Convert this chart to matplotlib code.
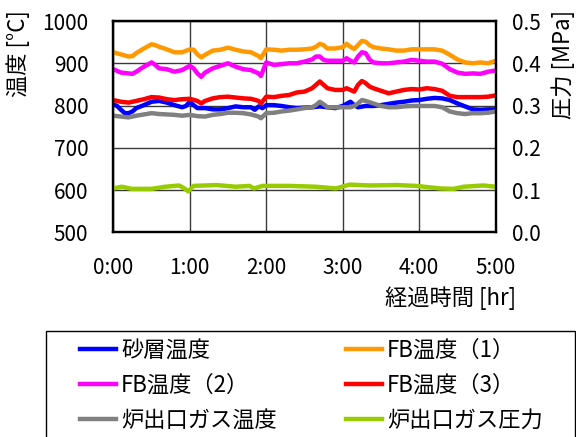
import matplotlib
matplotlib.use('Agg')
import matplotlib.pyplot as plt
from matplotlib.patches import Rectangle

plt.rcParams['font.family'] = ['Noto Sans CJK JP', 'DejaVu Sans']

# ---------------- data ----------------
hour_ticks = [0, 1, 2, 3, 4, 5]
hour_labels = ['0:00', '1:00', '2:00', '3:00', '4:00', '5:00']
temp_ticks = [500, 600, 700, 800, 900, 1000]
pres_ticks = [0.0, 0.1, 0.2, 0.3, 0.4, 0.5]

sand_t = [0, 0.05, 0.1, 0.15, 0.2, 0.25, 0.3, 0.4, 0.5, 0.6, 0.7, 0.8, 0.9, 0.95, 1.0, 1.05, 1.1, 1.2, 1.3, 1.4,
          1.5, 1.6, 1.7, 1.8, 1.85, 1.9, 1.95, 2.0, 2.1, 2.2, 2.3, 2.4, 2.5, 2.6, 2.7, 2.8, 2.9, 3.0, 3.1, 3.15,
          3.2, 3.3, 3.4, 3.5, 3.6, 3.7, 3.8, 3.9, 4.0, 4.1, 4.2, 4.3, 4.4, 4.5, 4.6, 4.7, 4.8, 4.9, 5.0]
sand_v = [803, 799, 790, 782, 782, 786, 794, 801, 809, 811, 807, 801, 796, 799, 809, 801, 794, 794, 791, 791,
          794, 798, 796, 796, 790, 798, 794, 801, 801, 799, 796, 794, 795, 796, 798, 796, 794, 799, 809, 801,
          796, 799, 799, 801, 804, 807, 809, 812, 813, 816, 818, 817, 813, 805, 798, 791, 790, 791, 791]

fb_t = [0, 0.1, 0.2, 0.25, 0.3, 0.4, 0.5, 0.55, 0.6, 0.7, 0.8, 0.9, 1.0, 1.05, 1.1, 1.15, 1.2, 1.3, 1.4, 1.5,
        1.6, 1.7, 1.8, 1.9, 1.93, 2.0, 2.1, 2.2, 2.3, 2.4, 2.5, 2.6, 2.65, 2.7, 2.75, 2.8, 2.9, 3.0, 3.05, 3.1,
        3.15, 3.2, 3.25, 3.3, 3.35, 3.4, 3.5, 3.6, 3.7, 3.8, 3.9, 4.0, 4.1, 4.2, 4.3, 4.4, 4.5, 4.6, 4.7, 4.8,
        4.9, 5.0]
fb1_v = [926, 921, 916, 917, 924, 935, 945, 943, 939, 933, 926, 926, 933, 932, 921, 914, 920, 930, 932, 937,
         932, 928, 926, 917, 912, 933, 932, 930, 932, 932, 933, 935, 939, 946, 943, 935, 935, 938, 946, 939,
         934, 943, 953, 951, 943, 938, 935, 933, 930, 930, 933, 933, 933, 933, 930, 920, 909, 902, 900, 902,
         900, 906]
fb2_v = [886, 878, 876, 875, 880, 892, 902, 896, 888, 886, 880, 884, 894, 888, 876, 868, 878, 888, 894, 900,
         892, 886, 884, 876, 870, 902, 896, 898, 900, 900, 904, 909, 916, 916, 908, 906, 906, 906, 912, 906,
         902, 916, 926, 924, 909, 902, 900, 900, 902, 904, 908, 906, 904, 904, 899, 886, 878, 875, 876, 875,
         880, 883]

fb3_t = [0, 0.1, 0.2, 0.3, 0.4, 0.5, 0.6, 0.7, 0.8, 0.9, 1.0, 1.1, 1.15, 1.2, 1.3, 1.4, 1.5, 1.6, 1.7, 1.8,
         1.9, 1.93, 2.0, 2.1, 2.2, 2.3, 2.4, 2.5, 2.6, 2.65, 2.7, 2.75, 2.8, 2.9, 3.0, 3.05, 3.1, 3.15, 3.2, 3.25,
         3.3, 3.35, 3.4, 3.5, 3.6, 3.7, 3.8, 3.9, 4.0, 4.1, 4.2, 4.3, 4.4, 4.5, 4.6, 4.7, 4.8, 4.9, 5.0]
fb3_v = [813, 809, 807, 811, 815, 820, 819, 815, 813, 815, 816, 811, 805, 811, 817, 820, 821, 819, 817, 816,
         811, 805, 821, 820, 823, 825, 831, 833, 841, 849, 857, 849, 841, 837, 837, 841, 837, 833, 849, 858,
         853, 845, 841, 835, 829, 833, 837, 839, 838, 841, 839, 835, 823, 820, 820, 820, 820, 821, 824]

gas_t = [0, 0.1, 0.2, 0.3, 0.4, 0.5, 0.6, 0.7, 0.8, 0.9, 1.0, 1.1, 1.2, 1.3, 1.4, 1.5, 1.6, 1.7, 1.8, 1.9,
         1.93, 2.0, 2.1, 2.2, 2.3, 2.4, 2.5, 2.6, 2.65, 2.7, 2.75, 2.8, 2.9, 3.0, 3.1, 3.15, 3.2, 3.25, 3.3, 3.4,
         3.5, 3.6, 3.7, 3.8, 3.9, 4.0, 4.1, 4.2, 4.3, 4.4, 4.5, 4.6, 4.7, 4.8, 4.9, 5.0]
gas_v = [776, 774, 772, 776, 779, 782, 780, 779, 778, 776, 778, 775, 774, 778, 780, 783, 783, 782, 779, 774,
         770, 782, 783, 786, 788, 791, 794, 796, 801, 809, 803, 796, 796, 796, 796, 799, 805, 813, 811, 805,
         799, 796, 796, 798, 799, 799, 799, 799, 796, 786, 782, 780, 782, 782, 783, 786]

pres_t = [0, 0.11, 0.24, 0.5, 0.68, 0.86, 0.93, 0.98, 1.05, 1.35, 1.6, 1.78, 1.84, 1.95, 2.3, 2.65, 2.91,
          3.09, 3.35, 3.7, 3.96, 4.27, 4.45, 4.58, 4.84, 5.0]
pres_v = [0.104, 0.108, 0.103, 0.103, 0.108, 0.111, 0.104, 0.097, 0.110, 0.112, 0.108, 0.110, 0.104, 0.110,
          0.110, 0.108, 0.104, 0.113, 0.111, 0.112, 0.110, 0.104, 0.103, 0.108, 0.111, 0.108]

labels = ['砂層温度', 'FB温度（1）', 'FB温度（2）', 'FB温度（3）', '炉出口ガス温度', '炉出口ガス圧力']
colors = ['#0000FF', '#FF9900', '#FF00FF', '#FF0000', '#808080', '#99CC00']

# ---------------- layout ----------------
W, H = 576, 437
def fx(px): return px / W
def fy(py): return 1 - py / H

FS = 15     # numbers
FSJ = 16    # Japanese text
fig = plt.figure(figsize=(5.76, 4.37), dpi=100)
ax = fig.add_axes([fx(113.3), fy(232.4), fx(495.7) - fx(113.3), fy(21) - fy(232.4)])
ax2 = ax.twinx()

lw = 3.2
l_sand, = ax.plot(sand_t, sand_v, color=colors[0], lw=lw, label=labels[0])
l_fb1, = ax.plot(fb_t, fb1_v, color=colors[1], lw=lw, label=labels[1])
l_fb2, = ax.plot(fb_t, fb2_v, color=colors[2], lw=lw, label=labels[2])
l_fb3, = ax.plot(fb3_t, fb3_v, color=colors[3], lw=lw, label=labels[3])
l_gas, = ax.plot(gas_t, gas_v, color=colors[4], lw=lw, label=labels[4])
l_pres, = ax2.plot(pres_t, pres_v, color=colors[5], lw=lw, label=labels[5])

ax.set_xlim(0, 5)
ax.set_ylim(500, 1000)
ax2.set_ylim(0, 0.5)
ax.set_xticks(hour_ticks)
ax.set_xticklabels(hour_labels)
ax.set_yticks(temp_ticks)
ax2.set_yticks(pres_ticks)
ax2.set_yticklabels(['%.1f' % v for v in pres_ticks])

ax.grid(True, color='#3a3a3a', lw=1.0)
ax.set_axisbelow(True)
ax.tick_params(axis='both', length=0, labelsize=FS)
ax.tick_params(axis='y', pad=18)
ax.tick_params(axis='x', pad=18)
ax2.tick_params(axis='y', length=0, labelsize=FS, pad=12)
for a in (ax, ax2):
    for s in a.spines.values():
        s.set_linewidth(1.6)
        s.set_color('black')

fig.text(fx(18), fy(10), '温度 [°C]', rotation=90, ha='center', va='top', fontsize=FSJ)
fig.text(fx(563), fy(10), '圧力 [MPa]', rotation=90, ha='center', va='top', fontsize=FSJ)
fig.text(fx(516), fy(298), '経過時間 [hr]', ha='right', va='center', fontsize=FSJ)

# legend
fig.patches.append(Rectangle((fx(46), fy(450)), fx(575) - fx(46), fy(331) - fy(450),
                             transform=fig.transFigure, fill=False, edgecolor='black', lw=1.0,
                             clip_on=False))
handles = [l_sand, l_fb2, l_gas, l_fb1, l_fb3, l_pres]
fig.legend(handles=handles, labels=[h.get_label() for h in handles], ncol=2,
           loc='upper left', bbox_to_anchor=(fx(80), fy(338.5)), frameon=False,
           borderpad=0, borderaxespad=0, handlelength=1.62, handletextpad=0.23,
           columnspacing=3.1, labelspacing=0.54, fontsize=FSJ)

fig.savefig('out.png', dpi=100)
